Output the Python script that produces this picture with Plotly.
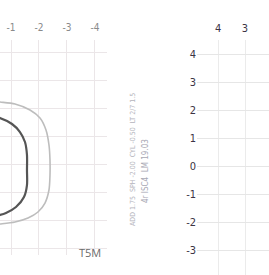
import plotly.graph_objects as go

# tick values / labels
left_ticks = [-1, -2, -3, -4]
right_xticks = [4, 3]
right_yticks = [4, 3, 2, 1, 0, -1, -2, -3, -4]
grid_y = [4, 3, 2, 1, 0, -1, -2, -3]

# contour outlines (data units)
inner_x = [-0.25, -0.607, -1.036, -1.321, -1.5, -1.571, -1.571, -1.571, -1.464, -1.179, -0.821, -0.607, -0.25]
inner_y = [1.714, 1.643, 1.429, 1.143, 0.786, 0.321, -0.214, -0.75, -1.179, -1.536, -1.75, -1.821, -1.893]
outer_x = [-0.25, -0.607, -1.143, -1.679, -2.036, -2.25, -2.357, -2.393, -2.393, -2.357, -2.214, -1.964, -1.607, -1.143, -0.607, -0.25]
outer_y = [2.25, 2.214, 2.143, 1.929, 1.643, 1.214, 0.679, 0.143, -0.393, -0.929, -1.393, -1.714, -1.929, -2.071, -2.143, -2.179]

W, H = 269, 275
fig = go.Figure()
fig.add_trace(go.Scatter(x=outer_x, y=outer_y, mode="lines", line=dict(color="#bdbdbd", width=1.6, shape="spline", smoothing=0.8),
                         xaxis="x", yaxis="y", hoverinfo="skip", showlegend=False))
fig.add_trace(go.Scatter(x=inner_x, y=inner_y, mode="lines", line=dict(color="#555555", width=2.2, shape="spline", smoothing=0.8),
                         xaxis="x", yaxis="y", hoverinfo="skip", showlegend=False))
fig.add_trace(go.Scatter(x=[3.5], y=[0], mode="markers", marker=dict(opacity=0), xaxis="x2", yaxis="y2",
                         hoverinfo="skip", showlegend=False))

tickfont_l = dict(family="Liberation Sans Narrow, DejaVu Sans Condensed, sans-serif", size=10, color="#8a8a8a")
tickfont_r = dict(family="Liberation Sans Narrow, DejaVu Sans Condensed, sans-serif", size=11, color="#3c3444")

fig.update_layout(
    width=W, height=H, margin=dict(l=0, r=0, t=0, b=0),
    paper_bgcolor="white", plot_bgcolor="white",
    xaxis=dict(domain=[0, 107 / W], range=[-0.607, -4.43], side="top", tickvals=left_ticks,
               ticktext=[f"-{abs(v)}" for v in left_ticks], tickfont=tickfont_l, showgrid=True,
               gridcolor="#ebe6e8", gridwidth=1, zeroline=False, showline=False, ticks="", ticklabelstandoff=6),
    yaxis=dict(domain=[1 - 255 / H, 1 - 40 / H], range=[-3.25, 4.43], tickvals=grid_y, showticklabels=False,
               showgrid=True, gridcolor="#ebe6e8", gridwidth=1, zeroline=False, showline=False, ticks=""),
    xaxis2=dict(domain=[197 / W, 1], range=[4.78, 2.11], side="top", tickvals=right_xticks,
                ticktext=[str(v) for v in right_xticks], tickfont=tickfont_r, showgrid=True,
                gridcolor="#ebebeb", zeroline=False, showline=False, ticks="", anchor="y2", ticklabelstandoff=5),
    yaxis2=dict(domain=[0, 1 - 40 / H], range=[-3.89, 4.5], tickvals=right_yticks,
                ticktext=[str(v) for v in right_yticks], tickfont=tickfont_r, showgrid=True,
                gridcolor="#e6e6e6", zeroline=False, showline=False, ticks="", anchor="x2", ticklabelstandoff=0),
)

fig.add_annotation(text="T5M", xref="paper", yref="paper", x=77 / W, y=1 - 262 / H, showarrow=False,
                   font=dict(family="Open Sans, sans-serif", size=11, color="#6a6a6a"))
fig.add_annotation(text="ADD 1.75  SPH -2.00  CYL -0.50  LT 2/7 1.5", xref="paper", yref="paper",
                   x=133 / W, y=1 - 160 / H, textangle=-90, showarrow=False,
                   font=dict(family="DejaVu Sans Condensed, sans-serif", size=7, color="#b4b4bc"))
fig.add_annotation(text="4r ISC4  LM 19.03", xref="paper", yref="paper",
                   x=145 / W, y=1 - 205 / H, textangle=-90, showarrow=False,
                   font=dict(family="DejaVu Sans Condensed, sans-serif", size=8, color="#a8a8b4"))

fig.write_html("out.html", config={"displayModeBar": False},
               post_script="document.body.style.margin='0';document.body.style.overflow='hidden';")
